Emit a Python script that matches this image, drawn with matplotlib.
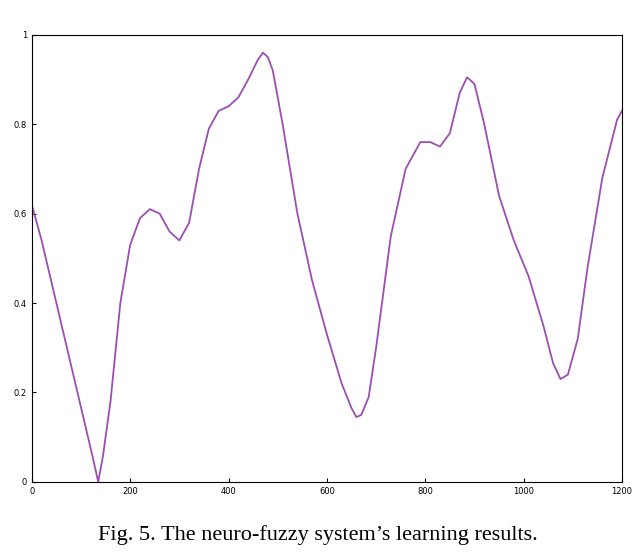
import numpy as np
import matplotlib.pyplot as plt

# values
x_vals = [0, 20, 50, 80, 110, 125, 135, 145, 160, 180, 200, 220, 240, 260, 280,
          300, 320, 340, 360, 380, 400, 420, 440, 460, 470, 480, 490, 510, 540,
          570, 600, 630, 650, 660, 670, 685, 700, 730, 760, 790, 810, 830, 850,
          870, 885, 900, 920, 950, 980, 1010, 1040, 1060, 1075, 1090, 1110, 1130,
          1160, 1190, 1200]
y_vals = [0.62, 0.54, 0.40, 0.26, 0.12, 0.05, 0.0, 0.06, 0.18, 0.40, 0.53, 0.59,
          0.61, 0.60, 0.56, 0.54, 0.58, 0.70, 0.79, 0.83, 0.84, 0.86, 0.90, 0.945,
          0.96, 0.95, 0.92, 0.80, 0.60, 0.45, 0.33, 0.22, 0.165, 0.145, 0.15, 0.19,
          0.30, 0.55, 0.70, 0.76, 0.76, 0.75, 0.78, 0.87, 0.905, 0.89, 0.80, 0.64,
          0.54, 0.46, 0.35, 0.265, 0.23, 0.24, 0.32, 0.48, 0.68, 0.81, 0.83]

x_ticks = [0, 200, 400, 600, 800, 1000, 1200]
y_ticks = [0, 0.2, 0.4, 0.6, 0.8, 1]
y_labels = ["0", "0.2", "0.4", "0.6", "0.8", "1"]

fig = plt.figure(figsize=(6.36, 5.52), dpi=100)
ax = fig.add_axes([0.05, 0.127, 0.928, 0.81])
ax.plot(x_vals, y_vals, color="#9b4fb0", lw=1.3, solid_joinstyle="round")
ax.set_xlim(0, 1200)
ax.set_ylim(0, 1)
ax.set_xticks(x_ticks)
ax.set_yticks(y_ticks)
ax.set_yticklabels(y_labels)
ax.tick_params(direction="in", labelsize=6, length=3)

fig.text(0.5, 0.03, "Fig. 5. The neuro-fuzzy system\u2019s learning results.",
         ha="center", va="center", fontsize=16, family="Liberation Serif")

fig.savefig("out.png", dpi=100)
